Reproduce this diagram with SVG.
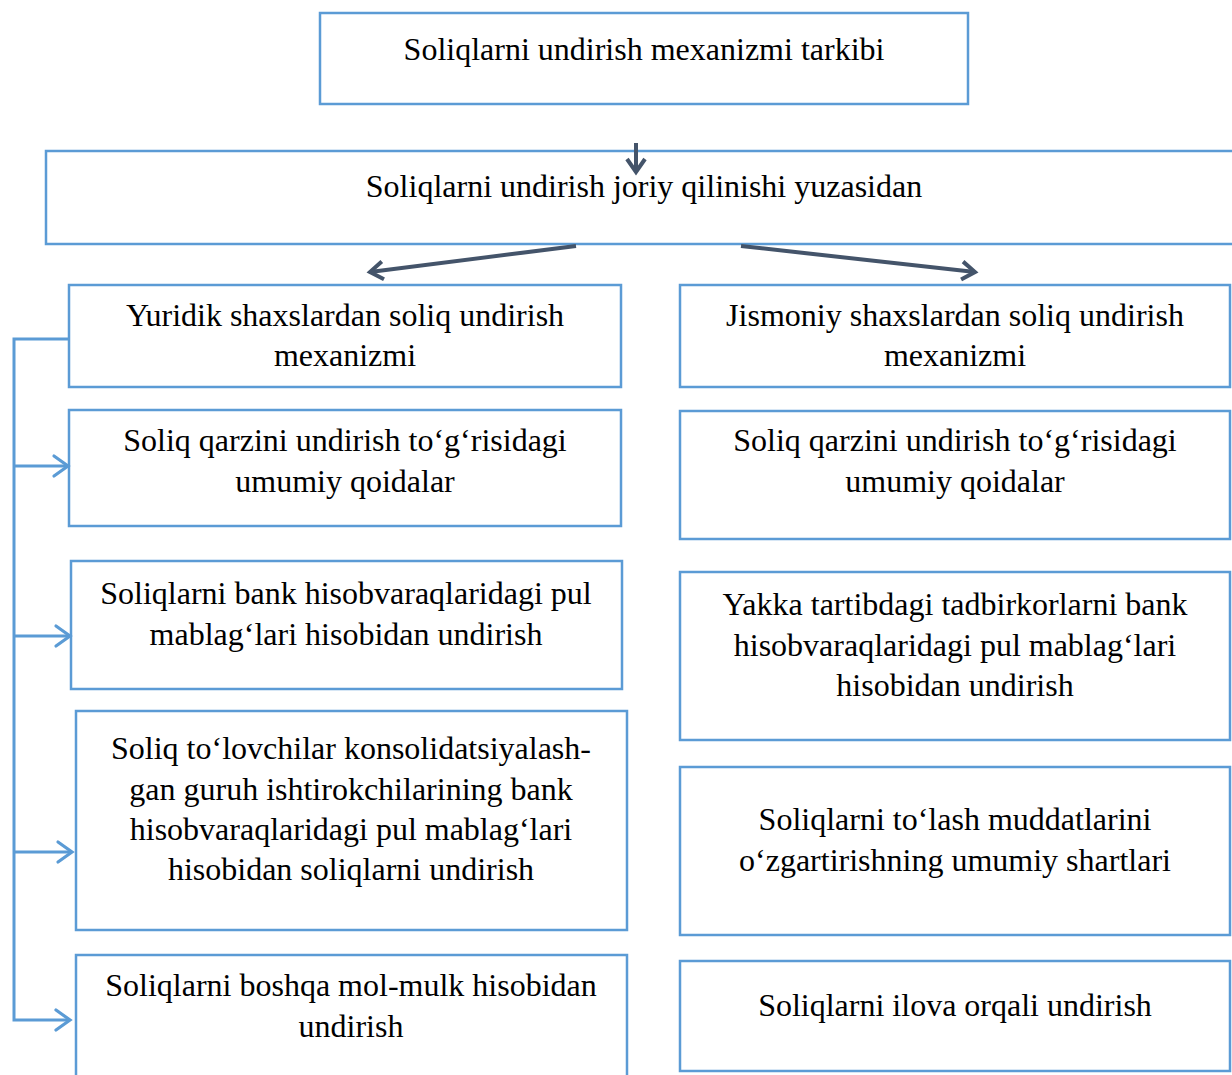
<svg xmlns="http://www.w3.org/2000/svg" width="1232" height="1075" viewBox="0 0 1232 1075">
  <style>
    .box { fill: #ffffff; stroke: #5B9BD5; stroke-width: 2.5; }
    .t { font-family: "Liberation Serif", "Times New Roman", serif; font-size: 32px; fill: #000000; text-anchor: middle; }
    .dark { fill: none; stroke: #44546A; stroke-width: 4; }
    .blue { fill: none; stroke: #5B9BD5; stroke-width: 3; }
  </style>
  <defs>
    <marker id="headDark" markerUnits="userSpaceOnUse" markerWidth="30" markerHeight="30" refX="0" refY="0" orient="auto" overflow="visible">
      <path d="M-13,-9 L0,0 L-13,9" fill="none" stroke="#44546A" stroke-width="4" stroke-linejoin="miter"/>
    </marker>
    <marker id="headBlue" markerUnits="userSpaceOnUse" markerWidth="30" markerHeight="30" refX="0" refY="0" orient="auto" overflow="visible">
      <path d="M-14,-10 L0,0 L-14,10" fill="none" stroke="#5B9BD5" stroke-width="3.2" stroke-linecap="round"/>
    </marker>
  </defs>
  <rect width="1232" height="1075" fill="#ffffff"/>

  <!-- boxes -->
  <g id="n-top"><rect class="box" x="320" y="13" width="648" height="91"/>
    <text class="t" x="644" y="60">Soliqlarni undirish mexanizmi tarkibi</text></g>
  <g id="n-joriy"><rect class="box" x="46" y="151" width="1200" height="93"/>
    <text class="t" x="644" y="197">Soliqlarni undirish joriy qilinishi yuzasidan</text></g>

  <g id="n-yuridik"><rect class="box" x="69" y="285" width="552" height="102"/>
    <text class="t" x="345" y="326">Yuridik shaxslardan soliq undirish</text>
    <text class="t" x="345" y="366">mexanizmi</text></g>
  <g id="n-yq1"><rect class="box" x="69" y="410" width="552" height="116"/>
    <text class="t" x="345" y="451">Soliq qarzini undirish to‘g‘risidagi</text>
    <text class="t" x="345" y="492">umumiy qoidalar</text></g>
  <g id="n-yq2"><rect class="box" x="71" y="561" width="551" height="128"/>
    <text class="t" x="346" y="604">Soliqlarni bank hisobvaraqlaridagi pul</text>
    <text class="t" x="346" y="645">mablag‘lari hisobidan undirish</text></g>
  <g id="n-yq3"><rect class="box" x="76" y="711" width="551" height="219"/>
    <text class="t" x="351" y="759">Soliq to‘lovchilar konsolidatsiyalash-</text>
    <text class="t" x="351" y="800">gan guruh ishtirokchilarining bank</text>
    <text class="t" x="351" y="840">hisobvaraqlaridagi pul mablag‘lari</text>
    <text class="t" x="351" y="880">hisobidan soliqlarni undirish</text></g>
  <g id="n-yq4"><rect class="box" x="76" y="955" width="551" height="140"/>
    <text class="t" x="351" y="996">Soliqlarni boshqa mol-mulk hisobidan</text>
    <text class="t" x="351" y="1037">undirish</text></g>

  <g id="n-jismoniy"><rect class="box" x="680" y="285" width="550" height="102"/>
    <text class="t" x="955" y="326">Jismoniy shaxslardan soliq undirish</text>
    <text class="t" x="955" y="366">mexanizmi</text></g>
  <g id="n-jq1"><rect class="box" x="680" y="411" width="550" height="128"/>
    <text class="t" x="955" y="451">Soliq qarzini undirish to‘g‘risidagi</text>
    <text class="t" x="955" y="492">umumiy qoidalar</text></g>
  <g id="n-jq2"><rect class="box" x="680" y="572" width="550" height="168"/>
    <text class="t" x="955" y="615">Yakka tartibdagi tadbirkorlarni bank</text>
    <text class="t" x="955" y="656">hisobvaraqlaridagi pul mablag‘lari</text>
    <text class="t" x="955" y="696">hisobidan undirish</text></g>
  <g id="n-jq3"><rect class="box" x="680" y="767" width="550" height="168"/>
    <text class="t" x="955" y="830">Soliqlarni to‘lash muddatlarini</text>
    <text class="t" x="955" y="871">o‘zgartirishning umumiy shartlari</text></g>
  <g id="n-jq4"><rect class="box" x="680" y="961" width="550" height="110"/>
    <text class="t" x="955" y="1016">Soliqlarni ilova orqali undirish</text></g>

  <!-- connectors -->
  <g id="connectors">
    <line class="dark" x1="636" y1="143" x2="636" y2="172" marker-end="url(#headDark)"/>
    <line class="dark" x1="576" y1="246" x2="370" y2="272" marker-end="url(#headDark)"/>
    <line class="dark" x1="741" y1="246" x2="975" y2="272" marker-end="url(#headDark)"/>

    <polyline class="blue" points="69,339 14,339 14,1020 70,1020" marker-end="url(#headBlue)"/>
    <line class="blue" x1="14" y1="466" x2="68" y2="466" marker-end="url(#headBlue)"/>
    <line class="blue" x1="14" y1="636" x2="70" y2="636" marker-end="url(#headBlue)"/>
    <line class="blue" x1="14" y1="852" x2="72" y2="852" marker-end="url(#headBlue)"/>
  </g>
</svg>
